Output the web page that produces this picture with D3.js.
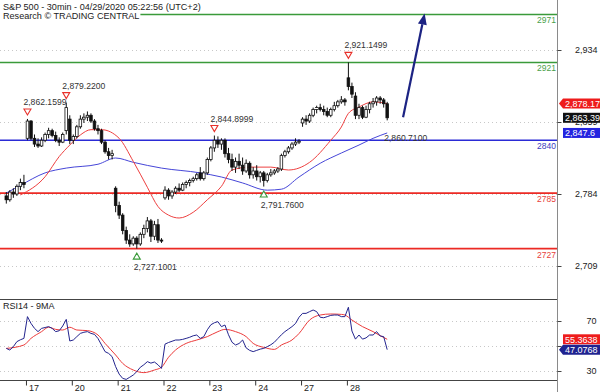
<!DOCTYPE html>
<html><head><meta charset="utf-8">
<script src="https://cdn.jsdelivr.net/npm/d3@7"></script>
<style>body{margin:0;background:#fff}svg{display:block;font-family:Arial,"Liberation Sans",sans-serif}</style>
</head><body><svg id="c" width="600" height="392"></svg>
<script>
// ---- data ----
const opens  = [2782,2778,2786,2784,2792,2796, 2842,2860,2842,2836,2834,2840,2846,2850,2845,2840,2838,2850,2862, 2840,2844,2854,2862,2864,2866,2860,2852,2850,2838,2828,2824,2790, 2772,2762,2746,2736,2732,2738,2732,2742,2748,2756,2740,2752,2736, 2780,2788,2782,2786,2790,2788,2794,2796,2798,2800,2806,2800,2806, 2820,2832,2840,2836,2840,2826,2820,2812,2818,2814,2808,2816,2804, 2808,2802,2806,2798,2804,2806,2808,2810,2824,2828,2832,2836,2838, 2858,2862,2860,2866,2872,2874,2872,2870,2866,2872,2876,2880,2882, 2905,2896,2886,2866,2874,2864,2872,2878,2880,2884,2882,2878];
const highs  = [2786,2788,2790,2794,2800,2804, 2862.1599,2861,2846,2842,2843,2848,2853,2852,2849,2843,2848,2879.22,2866, 2846,2856,2866,2868,2870,2868,2862,2856,2852,2840,2832,2830,2792, 2776,2764,2750,2742,2740,2740,2744,2752,2760,2758,2756,2758,2738, 2792,2790,2788,2792,2795,2796,2798,2800,2802,2806,2812,2808,2822, 2834,2844.8999,2844,2842,2842,2832,2826,2822,2826,2822,2820,2818,2812, 2814,2808,2808,2806,2810,2810,2812,2826,2830,2834,2838,2842,2841, 2864,2866,2868,2874,2876,2878,2876,2874,2874,2880,2882,2886,2884, 2921.1499,2900,2890,2878,2876,2876,2880,2884,2886,2886,2884,2880];
const lows   = [2774,2776,2780,2782,2788,2790, 2840,2840,2833,2832,2833,2838,2842,2843,2838,2834,2837,2846,2836, 2836,2842,2852,2858,2860,2858,2850,2846,2836,2826,2820,2820,2765, 2758,2742,2732,2729,2730,2727.1001,2730,2738,2744,2734,2736,2733,2733, 2778,2778,2779,2784,2786,2787,2790,2792,2796,2798,2798,2798,2804, 2818,2828,2832,2830,2822,2816,2808,2806,2810,2804,2806,2800,2800, 2798,2796,2791.76,2796,2802,2804,2806,2808,2822,2826,2830,2834,2836, 2854,2856,2858,2864,2868,2870,2866,2864,2864,2870,2874,2878,2876, 2892,2884,2862,2862,2862,2863,2868,2874,2876,2878,2874,2860.71];
const closes = [2778,2786,2784,2792,2796,2794, 2860,2842,2836,2834,2840,2846,2850,2845,2840,2838,2846,2874,2840, 2844,2854,2862,2864,2866,2860,2852,2850,2838,2828,2824,2826,2772, 2762,2746,2736,2732,2738,2732,2742,2748,2756,2740,2752,2736,2735, 2788,2782,2786,2790,2788,2794,2796,2798,2800,2804,2800,2806,2820, 2832,2840,2836,2840,2826,2820,2812,2818,2814,2808,2816,2804,2808, 2802,2806,2798,2804,2806,2808,2810,2824,2828,2832,2836,2838,2839, 2862,2860,2866,2872,2874,2872,2870,2866,2872,2876,2880,2882,2880, 2896,2888,2866,2874,2864,2872,2878,2880,2884,2882,2878,2863.39];

const redMaIdx  = [4,11,15,18,21,24,27,32,36,40,43,46,49,53,57,61,64,69,75,80,86,92,95,97,100,104,108];
const redMaVal  = [2783,2802,2823,2835,2845.5,2851,2851,2842,2818,2791,2771,2762,2759,2765,2778,2792,2809,2812,2812,2809,2817,2840,2853.8,2868,2874.6,2880,2878.17];
const blueMaIdx = [0,4,11,17,26,31,36,44,55,61,67,74,78,83,89,95,100,104,108];
const blueMaVal = [2785,2793,2806,2811,2815,2821.5,2817,2811,2806,2801.7,2795.5,2788,2789,2801.7,2816,2826.7,2835,2842,2847.6];

const rsi = [48.1,46.8,49.5,53.5,55,56.1, 73.5,68.1,64.1,61.5,64.1,64.8,65.5,64.1,61.5,62.2,66,71.3,54, 54.8,57.5,60.1,61,61.5,60.1,59.3,56,50.8,45.5,44.1,41.5,33.5, 27.5,24.1,23.3,25,26.8,29.5,33,35,37.5,36.3,37.2,35,32.1, 51.5,52.8,53.8,54.8,54.8,55.3,56.1,57,58.2,58.8,56.1,57.5,63, 67,68.6,69.5,65.5,66.8,59,53,50.8,52,54.8,48.5,46.5,45.5, 46.5,47.5,48.1,49.5,51,53,56,59,61.5,63.5,65.5,68,73, 76.1,76.1,77.5,78.8,77.5,73,72.6,73.5,74.5,74.8,74.8,73.5,73.5, 81,62,55.5,58.8,55.5,56.5,58.8,58.8,61.5,58,57.5,47.0768];
const rsiMaIdx = [0,5,7,10,12,14,16,18,20,23,26,28,31,33,36,39,42,44,46,48,51,54,57,60,62,65,68,70,73,76,78,81,83,86,89,92,95,96,98,101,104,106,108];
const rsiMaVal = [48.1,50.8,56.1,61.5,65,63.3,62.8,65,62.8,62.3,58.8,52.1,42.8,36.1,30.8,28.7,30.8,33,41,46.8,52.1,54.8,57.5,61.5,63.3,61.5,57.5,52.1,48.9,47.3,50.8,54.8,60,70.8,74.8,75.6,75.3,74.8,70.8,65.5,61.5,58.3,55.3638];

const dayTickIdx = [6,19,32,45,58,71,84,97];
const dayLabels  = ["17","20","21","22","23","24","27","28"];
const priceTicks = [2934,2859,2784,2709];
const rsiTicks   = [70,50,30];
const levelVals  = [2971,2921,2840,2785,2727];
const levelNames = ["2971","2921","2840","2785","2727"];
const levelKinds = ["green","green","blue","red","red"];
const highMarkIdx = [6,17,59,97];
const lowMarkIdx  = [37,73];
const lastLowIdx  = [108];
const arrowIdx = [112.5,118.6];
const arrowVal = [2864,2972];
const titleLines = ["S&P 500 - 30min - 04/29/2020 05:22:56 (UTC+2)","Research \u00A9 TRADING CENTRAL"];

// ---- drawing ----
const svg = d3.select("#c");
const W = 600, axisX = 557.5;
const colors = {green:"#3a9a3a", blue:"#2b2bd6", red:"#ec2a24"};
const textColors = {green:"#4aa04a", blue:"#3b3bc0", red:"#e8403a"};

const x = d3.scaleLinear().domain([0,108]).range([6.3,387.2]);
const y = d3.scaleLinear().domain([2709,2934]).range([266,50]);
const yr = d3.scaleLinear().domain([30,70]).range([371,321]);
const fmt4 = d3.format(",.4f");

// gridlines
svg.append("g").selectAll("line").data(priceTicks).join("line")
  .attr("x1",0).attr("x2",axisX).attr("y1",d=>Math.round(y(d))+0.5).attr("y2",d=>Math.round(y(d))+0.5)
  .attr("stroke","#c8c8c8").attr("stroke-dasharray","1,3");
svg.append("g").selectAll("line").data(rsiTicks).join("line")
  .attr("x1",0).attr("x2",axisX).attr("y1",d=>Math.round(yr(d))+0.5).attr("y2",d=>Math.round(yr(d))+0.5)
  .attr("stroke","#c8c8c8").attr("stroke-dasharray","1,3");

// level lines
svg.append("g").selectAll("line").data(levelVals).join("line")
  .attr("x1",0).attr("x2",axisX).attr("y1",d=>y(d)).attr("y2",d=>y(d))
  .attr("stroke",(d,i)=>colors[levelKinds[i]]).attr("stroke-width",1.7);

// moving averages
const lineMain = d3.line().curve(d3.curveMonotoneX);
svg.append("path").attr("d",lineMain(blueMaIdx.map((d,i)=>[x(d),y(blueMaVal[i])])))
  .attr("fill","none").attr("stroke","#4646d8").attr("stroke-width",1);
svg.append("path").attr("d",lineMain(redMaIdx.map((d,i)=>[x(d),y(redMaVal[i])])))
  .attr("fill","none").attr("stroke","#ee4040").attr("stroke-width",1);

// candles
const idx = d3.range(opens.length);
const cg = svg.append("g");
cg.selectAll("line").data(idx).join("line")
  .attr("x1",i=>x(i)).attr("x2",i=>x(i)).attr("y1",i=>y(highs[i])).attr("y2",i=>y(lows[i]))
  .attr("stroke","#111").attr("stroke-width",1);
cg.selectAll("rect").data(idx).join("rect")
  .attr("x",i=>x(i)-1.3).attr("width",2.6)
  .attr("y",i=>y(Math.max(opens[i],closes[i])))
  .attr("height",i=>Math.max(1,Math.abs(y(opens[i])-y(closes[i]))))
  .attr("fill",i=>closes[i]>=opens[i]?"#fff":"#111")
  .attr("stroke","#111").attr("stroke-width",0.8);

// level labels
svg.append("g").selectAll("text").data(levelVals).join("text")
  .attr("x",556).attr("y",d=>y(d)+9).attr("text-anchor","end")
  .attr("font-size",8.5).attr("fill",(d,i)=>textColors[levelKinds[i]]).text((d,i)=>levelNames[i]);

// markers
const mk = svg.append("g");
mk.selectAll("path.h").data(highMarkIdx).join("path").attr("class","h")
  .attr("d",i=>{const cx=x(i),cy=y(highs[i])-7;return `M${cx-3.5},${cy-3}L${cx+3.5},${cy-3}L${cx},${cy+3}Z`;})
  .attr("fill","#fff").attr("stroke","#e8302a").attr("stroke-width",1.1);
mk.selectAll("text.h").data(highMarkIdx).join("text").attr("class","h")
  .attr("x",i=>x(i)-4).attr("y",i=>y(highs[i])-14)
  .attr("font-size",8.6).attr("fill","#333").text(i=>fmt4(highs[i]));
mk.selectAll("path.l").data(lowMarkIdx).join("path").attr("class","l")
  .attr("d",i=>{const cx=x(i),cy=y(lows[i])+7.5;return `M${cx-3.5},${cy+3}L${cx+3.5},${cy+3}L${cx},${cy-3}Z`;})
  .attr("fill","#fff").attr("stroke","#3a9a3a").attr("stroke-width",1.1);
mk.selectAll("text.l").data(lowMarkIdx.concat(lastLowIdx)).join("text").attr("class","l")
  .attr("x",i=>x(i)-3).attr("y",i=>y(lows[i])+21)
  .attr("font-size",8.6).attr("fill","#333").text(i=>fmt4(lows[i]));

// forecast arrow
const ax0=x(arrowIdx[0]), ay0=y(arrowVal[0]), ax1=x(arrowIdx[1]), ay1=y(arrowVal[1]);
const ang=Math.atan2(ay1-ay0,ax1-ax0), hl=11, hw=4.5;
const bx=ax1-hl*Math.cos(ang), by=ay1-hl*Math.sin(ang);
svg.append("line").attr("x1",ax0).attr("y1",ay0).attr("x2",bx).attr("y2",by)
  .attr("stroke","#1c2383").attr("stroke-width",2.2);
svg.append("path").attr("d",`M${ax1},${ay1}L${bx-hw*Math.sin(ang)},${by+hw*Math.cos(ang)}L${bx+hw*Math.sin(ang)},${by-hw*Math.cos(ang)}Z`)
  .attr("fill","#1c2383");

// title with white background
const tg = svg.append("g");
const tt = tg.selectAll("text").data(titleLines).join("text")
  .attr("x",3).attr("y",(d,i)=>9.8+i*9.4).attr("font-size",9.1).attr("fill","#222").text(d=>d);
tt.each(function(d,i){const b=this.getBBox();tg.insert("rect","text").attr("x",0).attr("y",i===0?b.y:b.y+1).attr("width",b.x+b.width+1).attr("height",b.height-1).attr("fill","#fff");});

// RSI panel
svg.append("text").attr("x",3).attr("y",309).attr("font-size",9).attr("fill","#222").text("RSI14 - 9MA");
svg.append("path").attr("d",d3.line().curve(d3.curveMonotoneX)(rsiMaIdx.map((d,i)=>[x(d),yr(rsiMaVal[i])])))
  .attr("fill","none").attr("stroke","#ec3b3b").attr("stroke-width",1);
svg.append("path").attr("d",d3.line()(rsi.map((v,i)=>[x(i),yr(v)])))
  .attr("fill","none").attr("stroke","#23248e").attr("stroke-width",1);

// panel borders
svg.append("line").attr("x1",0).attr("x2",axisX).attr("y1",299.5).attr("y2",299.5).attr("stroke","#444");
svg.append("line").attr("x1",0).attr("x2",axisX).attr("y1",380.5).attr("y2",380.5).attr("stroke","#444");
svg.append("line").attr("x1",axisX).attr("x2",axisX).attr("y1",0).attr("y2",392).attr("stroke","#8a8a8a");

// right axes
const pa = svg.append("g").attr("transform",`translate(${axisX},0)`)
  .call(d3.axisRight(y).tickValues(priceTicks).tickSize(4).tickFormat(d3.format(",")));
pa.select(".domain").remove();
pa.selectAll("text").attr("x",40).attr("text-anchor","end").attr("font-size",9).attr("fill","#222").attr("font-family",null);
pa.selectAll("line").attr("stroke","#444");
const ra = svg.append("g").attr("transform",`translate(${axisX},0)`)
  .call(d3.axisRight(yr).tickValues(rsiTicks).tickSize(4).tickFormat(d=>d===50?"":d));
ra.select(".domain").remove();
ra.selectAll("text").attr("x",39).attr("text-anchor","end").attr("font-size",9).attr("fill","#222").attr("font-family",null);
ra.selectAll("line").attr("stroke","#444");

// bottom axis
const ba = svg.append("g").attr("transform","translate(0,380.5)")
  .call(d3.axisBottom(x).tickValues(dayTickIdx).tickSize(5).tickFormat((d,i)=>dayLabels[i]));
ba.select(".domain").remove();
ba.selectAll("line").attr("stroke","#333").attr("transform","translate(-1.5,0)");
ba.selectAll("text").attr("text-anchor","start").attr("x",1).attr("y",4).attr("dy","0.71em")
  .attr("font-size",9).attr("fill","#222").attr("font-family",null);

// value boxes
function box(v, scale, fill, txt, pointer){
  const cy = scale(v), h=10, x0=563;
  const g = svg.append("g");
  if(pointer) g.append("path").attr("d",`M${axisX+1.5},${cy}L${x0},${cy-h/2}L${W},${cy-h/2}L${W},${cy+h/2}L${x0},${cy+h/2}Z`).attr("fill",fill);
  else g.append("rect").attr("x",x0).attr("y",cy-h/2).attr("width",W-x0).attr("height",h).attr("fill",fill);
  g.append("text").attr("x",x0+2).attr("y",cy+3.3).attr("font-size",9).attr("fill","#fff").text(txt);
}
box(closes[closes.length-1], y, "#111", d3.format(",.2f")(closes[closes.length-1]), false);
box(blueMaVal[blueMaVal.length-1], y, "#2424e0", d3.format(",.1f")(blueMaVal[blueMaVal.length-1]), false);
box(redMaVal[redMaVal.length-1], y, "#ee1c1c", d3.format(",.2f")(redMaVal[redMaVal.length-1]), true);
box(rsiMaVal[rsiMaVal.length-1], yr, "#ee1c1c", d3.format(".4f")(rsiMaVal[rsiMaVal.length-1]), false);
box(rsi[rsi.length-1], yr, "#1f2390", d3.format(".4f")(rsi[rsi.length-1]), true);
</script></body></html>
